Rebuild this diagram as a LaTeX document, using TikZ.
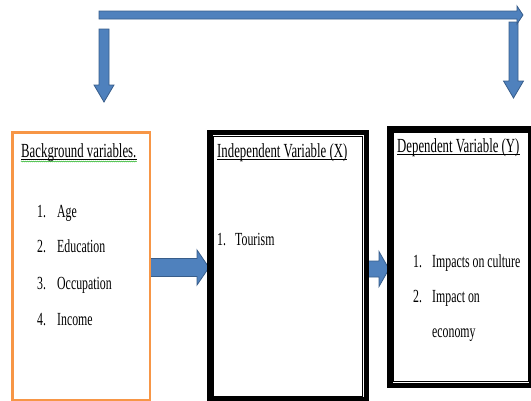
\documentclass[tikz,border=0pt]{standalone}
\usepackage{fontspec}
\setmainfont{Liberation Serif}[FakeStretch=0.64]
\usetikzlibrary{calc,decorations.pathmorphing}
\definecolor{arrfill}{HTML}{4F81BD}
\definecolor{arrdraw}{HTML}{385D8A}
\definecolor{boxorange}{HTML}{F79646}
\newcommand\hblockarrow[5]{\draw[barrow] ($(#1)+(0,-#3)$) -- ($(#2)+(-#5,-#3)$) -- ($(#2)+(-#5,-#4)$) -- (#2) -- ($(#2)+(-#5,#4)$) -- ($(#2)+(-#5,#3)$) -- ($(#1)+(0,#3)$) -- cycle;}
\newcommand\vblockarrow[5]{\draw[barrow] ($(#1)+(-#3,0)$) -- ($(#2)+(-#3,-#5)$) -- ($(#2)+(-#4,-#5)$) -- (#2) -- ($(#2)+(#4,-#5)$) -- ($(#2)+(#3,-#5)$) -- ($(#1)+(#3,0)$) -- cycle;}
\begin{document}
\begin{tikzpicture}[x=1pt,y=-1pt,
  ttl/.style={anchor=base west,inner sep=0,font=\fontsize{20}{22}\selectfont},
  itm/.style={anchor=base west,inner sep=0,font=\fontsize{18.5}{21}\selectfont},
  uline/.style={draw=black,line width=1.1pt},
  barrow/.style={fill=arrfill,draw=arrdraw,line width=0.8pt,line join=miter},
  obox/.style={draw=boxorange,line width=1.5pt,inner sep=0,anchor=north west},
  kbox/.style={draw=black,line width=3.5pt,inner sep=0,anchor=north west},
  kinner/.style={draw=black,line width=1pt}]
\useasboundingbox (0,0) rectangle (531,400);

% boxes
\node[obox,minimum width=137pt,minimum height=267pt] (b1) at (12,132) {};
\node[kbox,minimum width=154.5pt,minimum height=265.5pt] (b2) at (209,131.5) {};
\node[kbox,minimum width=140pt,minimum height=254.5pt] (b3) at (389,128) {};

% connectors between boxes
\coordinate (a1s) at (b1.east |- 0,267.5);
\coordinate (a1t) at (b2.west |- a1s);
\coordinate (a2s) at (b2.east |- 0,269);
\coordinate (a2t) at (b3.west |- a2s);
\hblockarrow{a1s}{a1t}{9}{17.5}{12}
\hblockarrow{a2s}{a2t}{8}{17.5}{10}

% top arrows
\coordinate (ds1) at (104,29);
\coordinate (dt1) at (104,102);
\coordinate (ds2) at (513.5,22);
\coordinate (dt2) at (513.5,98);
\coordinate (ts) at (99,15);
\coordinate (te) at (523,15);
\vblockarrow{ds1}{dt1}{5}{10}{17}
\vblockarrow{ds2}{dt2}{4.5}{10}{17}
\hblockarrow{ts}{te}{4}{9}{6}

% box borders on top of the arrows
\draw[draw=boxorange,line width=1.5pt] (b1.north west) rectangle (b1.south east);
\draw[draw=black,line width=3.5pt] (b2.north west) rectangle (b2.south east);
\draw[kinner] ($(b2.north west)+(4.5,4.5)$) rectangle ($(b2.south east)+(-4.5,-4.5)$);
\draw[draw=black,line width=3.5pt] (b3.north west) rectangle (b3.south east);
\draw[kinner] ($(b3.north west)+(4.5,4.5)$) rectangle ($(b3.south east)+(-4.5,-4.5)$);

% box 1 text
\node[ttl] (t1) at (21,157) {Background variables.};
\draw[uline] ($(t1.base west)+(0,2.2)$) -- ($(t1.base east)+(0,2.2)$);
\draw[green!65!black,line width=0.5pt,decorate,decoration={snake,amplitude=0.5pt,segment length=2pt}]
  ($(t1.base west)+(0,4.5)$) -- ($(t1.base east)+(0,4.5)$);
\node[itm] (n11) at (37,217) {1.};
\node[itm] (i11) at (57,217) {Age};
\node[itm] (n12) at (37,252) {2.};
\node[itm] (i12) at (57,252) {Education};
\node[itm] (n13) at (37,289) {3.};
\node[itm] (i13) at (57,289) {Occupation};
\node[itm] (n14) at (37,325) {4.};
\node[itm] (i14) at (57,325) {Income};

% box 2 text
\node[ttl] (t2) at (217,157) {Independent Variable (X)};
\draw[uline] ($(t2.base west)+(0,2.2)$) -- ($(t2.base east)+(0,2.2)$);
\node[itm] (n21) at (217,245) {1.};
\node[itm] (i21) at (235,245) {Tourism};

% box 3 text
\node[ttl] (t3) at (397,152) {Dependent Variable (Y)};
\draw[uline] ($(t3.base west)+(0,2.2)$) -- ($(t3.base east)+(0,2.2)$);
\node[itm] (n31) at (413,267) {1.};
\node[itm] (i31) at (432,267) {Impacts on culture};
\node[itm] (n32) at (413,302) {2.};
\node[itm] (i32) at (432,302) {Impact on};
\node[itm] (i33) at (432,337) {economy};
\end{tikzpicture}
\end{document}
